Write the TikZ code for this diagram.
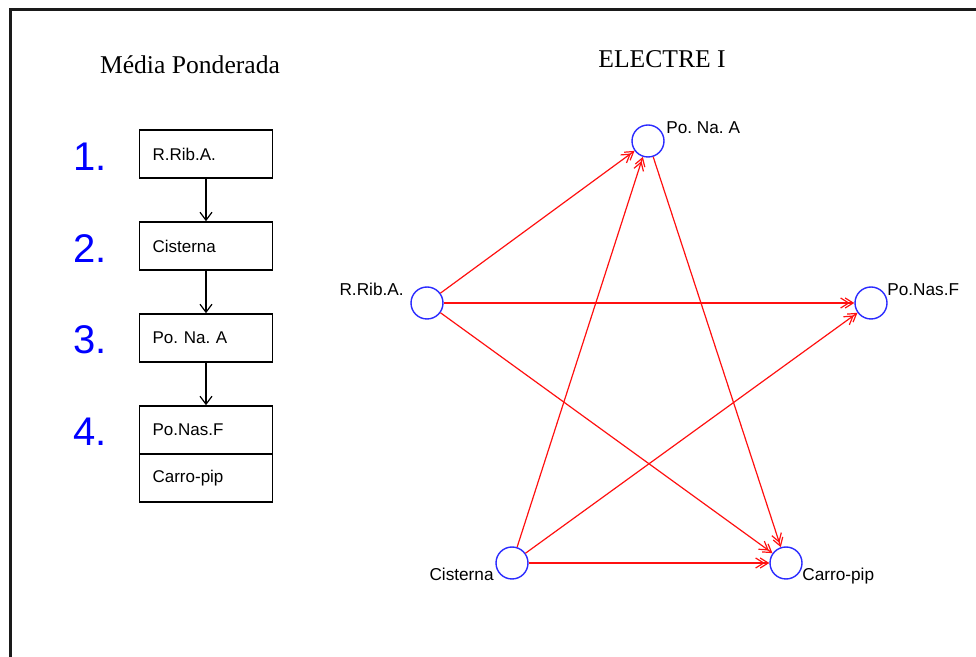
\documentclass[tikz,border=0pt]{standalone}
\usepackage{fontspec}
\setmainfont{Liberation Serif}
\setsansfont{Liberation Sans}
\usetikzlibrary{arrows.meta}
\definecolor{FrameLine}{HTML}{1A1A1A}
\definecolor{RankNumber}{HTML}{0000FF}
\definecolor{ElectreNode}{HTML}{2A2AFF}
\definecolor{ElectreArc}{HTML}{FF1010}

\tikzset{
  rankbox/.style={draw=black,line width=0.8pt,minimum width=66pt,minimum height=24pt,
    text width=53.4pt,inner xsep=6.5pt,inner ysep=0pt,align=left,
    font=\sffamily\fontsize{8.5}{10}\selectfont},
  ranknum/.style={text=RankNumber,font=\sffamily\fontsize{20}{24}\selectfont,inner sep=0pt},
  alt/.style={circle,draw=ElectreNode,line width=0.7pt,minimum size=16pt,inner sep=0pt},
  altlabel/.style={inner sep=0pt,text height=1.5ex,text depth=.3ex,
    font=\sffamily\fontsize{8.6}{10}\selectfont},
  heading/.style={font=\fontsize{12.8}{15}\selectfont,inner sep=0pt,anchor=base},
  outranks/.style={ElectreArc,line width=0.6pt,
    -{Straight Barb[length=4pt,width=5pt,sep=-2.6pt]Straight Barb[length=4pt,width=5pt]}},
  nextrank/.style={black,line width=0.6pt,-{Straight Barb[length=4pt,width=6pt]}}
}

\begin{document}
\frenchspacing
\begin{tikzpicture}[x=0.5pt,y=-0.5pt]
  \useasboundingbox (0,0) rectangle (976,657);
  \draw[FrameLine,line width=1.1pt] (10.5,657) -- (10.5,9.5) -- (976,9.5);

  % weighted average ranking
  \node[heading] (wtitle) at (190,74) {Média Ponderada};
  \node[rankbox] (r1) at (206,154) {R.Rib.A.};
  \node[rankbox] (r2) at (206,246) {Cisterna};
  \node[rankbox] (r3) at (206,338) {Po. Na. A};
  \node[rankbox] (r4) at (206,430) {Po.Nas.F};
  \node[rankbox] (r5) at (206,478) {Carro-pip};
  \node[ranknum] (n1) at (90,157) {1.};
  \node[ranknum] (n2) at (90,248.5) {2.};
  \node[ranknum] (n3) at (90,340) {3.};
  \node[ranknum] (n4) at (90,432) {4.};
  \draw[nextrank] (r1) -- (r2);
  \draw[nextrank] (r2) -- (r3);
  \draw[nextrank] (r3) -- (r4);

  % ELECTRE I graph
  \node[heading] (etitle) at (662,68) {ELECTRE I};
  \node[alt] (pna) at (648,141) {};
  \node[alt] (rra) at (427,303) {};
  \node[alt] (pnf) at (871,303) {};
  \node[alt] (cis) at (512,563) {};
  \node[alt] (cpp) at (786,563) {};
  \node[altlabel,anchor=west] (pnalbl) at (666,128) {Po. Na. A};
  \node[altlabel,anchor=east] (rralbl) at (404,290) {R.Rib.A.};
  \node[altlabel,anchor=west] (pnflbl) at (887,290) {Po.Nas.F};
  \node[altlabel,anchor=east] (cislbl) at (494,575) {Cisterna};
  \node[altlabel,anchor=west] (cpplbl) at (802,575) {Carro-pip};

  \draw[outranks] (rra) -- (pna);
  \draw[outranks] (rra) -- (pnf);
  \draw[outranks] (rra) -- (cpp);
  \draw[outranks] (cis) -- (pna);
  \draw[outranks] (cis) -- (pnf);
  \draw[outranks] (cis) -- (cpp);
  \draw[outranks] (pna) -- (cpp);
\end{tikzpicture}
\end{document}
